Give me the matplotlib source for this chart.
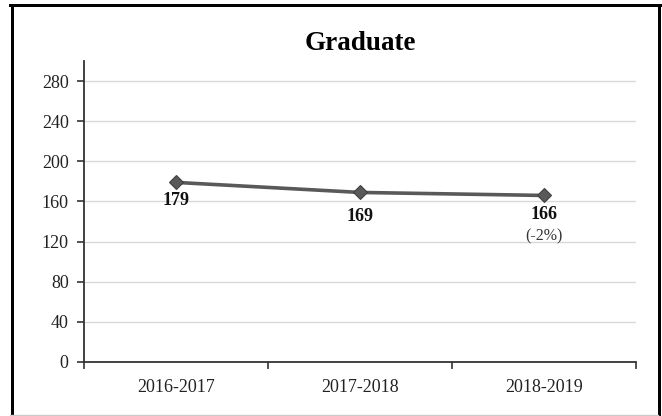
import matplotlib
matplotlib.use("Agg")
import matplotlib.pyplot as plt
from matplotlib.lines import Line2D

categories = ["2016-2017", "2017-2018", "2018-2019"]
values = [179, 169, 166]
extra_labels = ["", "", "(-2%)"]
yticks = [0, 40, 80, 120, 160, 200, 240, 280]
title = "Graduate"

plt.rcParams['font.family'] = ['Liberation Serif', 'DejaVu Serif']

W, H = 662, 416
fig = plt.figure(figsize=(W / 100, H / 100), dpi=100)
ax = fig.add_axes([84 / W, 1 - 362 / H, (636 - 84) / W, (362 - 61) / H])

x = list(range(len(categories)))
ax.plot(x, values, color="#595959", lw=2.6, marker="D", markersize=7.5,
        markerfacecolor="#595959", markeredgecolor="#404040", markeredgewidth=0.8,
        zorder=3, solid_capstyle="round")

offsets = [18, 24.5, 19.5]  # px below point (label centres)
for xi, v, ex, off in zip(x, values, extra_labels, offsets):
    ax.annotate(str(v), (xi, v), xytext=(0, -off * 0.72), textcoords="offset points",
                ha="center", va="center", fontsize=13, fontweight="bold", color="#111111")
    if ex:
        ax.annotate(ex, (xi, v), xytext=(0, -(off + 21) * 0.72), textcoords="offset points",
                    ha="center", va="center", fontsize=11.5, color="#333333")

ax.set_xlim(-0.5, len(categories) - 0.5)
ax.set_ylim(0, 300)
ax.set_yticks(yticks)
ax.set_yticklabels([str(t) for t in yticks])
ax.set_xticks(x)
ax.set_xticklabels(categories)
ax.set_xticks([i - 0.5 for i in range(len(categories) + 1)], minor=True)
ax.tick_params(axis="x", which="major", length=0, pad=12, labelsize=13, colors="#222222")
ax.tick_params(axis="x", which="minor", length=5, width=1.2, color="#333333", direction="out")
ax.tick_params(axis="y", length=5, width=1.2, color="#333333", pad=6, labelsize=13, labelcolor="#222222")

for t in yticks:
    if t > 0:
        ax.axhline(t, color="#d9d9d9", lw=1, zorder=0)

for s in ["top", "right"]:
    ax.spines[s].set_visible(False)
for s in ["left", "bottom"]:
    ax.spines[s].set_color("#333333")
    ax.spines[s].set_linewidth(1.3)

fig.text(360 / W, 1 - 43 / H, title, ha="center", va="center", fontsize=19.5, fontweight="bold", color="#000000")

# outer frame
lw = 3
fig.add_artist(Line2D([11.5 / W, 11.5 / W], [0, 1 - 5 / H], transform=fig.transFigure, color="black", lw=lw * 0.72))
fig.add_artist(Line2D([10 / W, 660 / W], [1 - 5 / H, 1 - 5 / H], transform=fig.transFigure, color="black", lw=lw * 0.72))
fig.add_artist(Line2D([658.5 / W, 658.5 / W], [0, 1 - 5 / H], transform=fig.transFigure, color="black", lw=lw * 0.72))
fig.add_artist(Line2D([10 / W, 658 / W], [0.8 / H, 0.8 / H], transform=fig.transFigure, color="#cccccc", lw=1))

fig.savefig("out.png", dpi=100)
